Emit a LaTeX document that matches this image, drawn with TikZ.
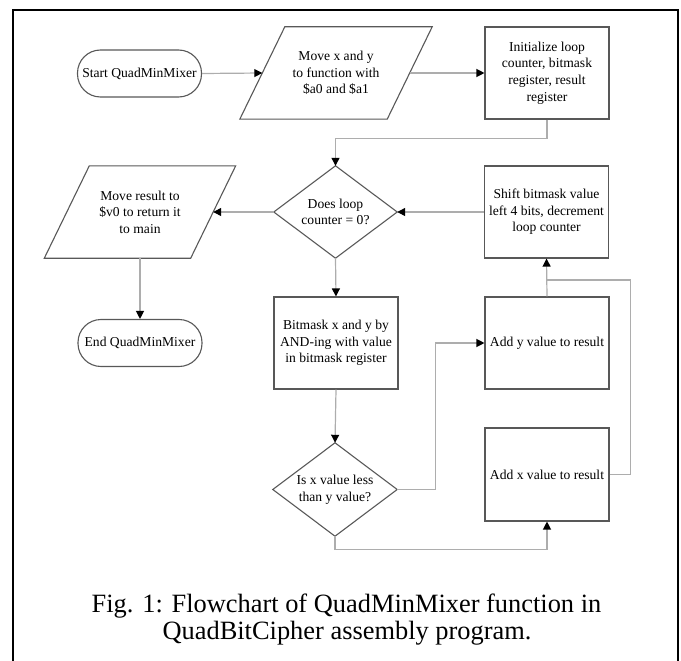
\documentclass[tikz,border=0pt]{standalone}
\usepackage{fontspec}
\setmainfont{Liberation Serif}
\usetikzlibrary{arrows.meta,calc}
\definecolor{edgec}{HTML}{ADADAD}
\definecolor{bordc}{HTML}{585858}
\newcommand\nfont{\fontsize{13.6}{16.6}\selectfont}
\newcommand\cfont{\fontsize{26.4}{27}\selectfont}
\begin{document}
\begin{tikzpicture}[x=1pt,y=-1pt,
  box/.style={draw=bordc, line width=1.1pt, minimum width=124pt, minimum height=92pt, inner sep=0pt, align=center, font=\nfont},
  termbox/.style={draw=bordc, line width=1.1pt, minimum width=124pt, minimum height=47pt, rounded corners=23pt, inner sep=0pt, align=center, font=\nfont},
  ghost/.style={minimum width=#1, minimum height=92pt, inner sep=0pt, align=center, font=\nfont},
  shapeline/.style={draw=bordc, line width=1.1pt},
  conn/.style={draw=edgec, line width=1.2pt, -{Triangle[length=8pt,width=8pt,color=black]}},
  plainline/.style={draw=edgec, line width=1.2pt},
  captext/.style={font=\cfont, anchor=base, inner sep=0pt}
]
\useasboundingbox (0,0) rectangle (681,661);
\draw[line width=2.7pt] (13,661) -- (13,10) -- (678,10) -- (678,661);

% nodes
\node[termbox] (start) at (139.5,73.5) {Start QuadMinMixer};
\node[ghost=147pt] (p1) at (336,73) {Move x and y\\to function with\\\$a0 and \$a1};
\draw[shapeline] ([xshift=22.5pt]p1.north west) -- ([xshift=22.5pt]p1.north east) -- ([xshift=-22.5pt]p1.south east) -- ([xshift=-22.5pt]p1.south west) -- cycle;
\node[box] (init) at (547,73) {Initialize loop\\counter, bitmask\\register, result\\register};

\node[ghost=123pt] (d1) at (335.5,212) {Does loop\\counter = 0?};
\draw[shapeline] (d1.north) -- (d1.east) -- (d1.south) -- (d1.west) -- cycle;
\node[ghost=146pt] (p2) at (140,212) {Move result to\\\$v0 to return it\\to main};
\draw[shapeline] ([xshift=22.5pt]p2.north west) -- ([xshift=22.5pt]p2.north east) -- ([xshift=-22.5pt]p2.south east) -- ([xshift=-22.5pt]p2.south west) -- cycle;
\node[box] (shift) at (546.5,212) {Shift bitmask value\\left 4 bits, decrement\\loop counter};

\node[termbox] (end) at (140,343) {End QuadMinMixer};
\node[box] (bit) at (336,343) {Bitmask x and y by\\AND-ing with value\\in bitmask register};
\node[box] (addy) at (547,343) {Add y value to result};

\node[ghost=124pt, minimum height=93pt] (d2) at (335,489.5) {Is x value less\\than y value?};
\draw[shapeline] (d2.north) -- (d2.east) -- (d2.south) -- (d2.west) -- cycle;
\node[box, minimum height=93pt] (addx) at (547,474.5) {Add x value to result};

% connectors
\draw[conn] (start.east) -- (p1.west);
\draw[conn] (p1.east) -- (init.west);
\draw[conn] (init.south) -- ++(0,19) -| (d1.north);
\draw[conn] (d1.west) -- (p2.east);
\draw[conn] (shift.west) -- (d1.east);
\draw[conn] (d1.south) -- (bit.north);
\draw[conn] (p2.south) -- (end.north);
\draw[conn] (bit.south) -- (d2.north);
\draw[conn] (d2.east) -- ++(38,0) |- (addy.west);
\draw[conn] (d2.south) -- ++(0,13.5) -| (addx.south);
\draw[conn] (addy.north) -- (shift.south);
\coordinate (join) at (547,280);
\draw[plainline] (addx.east) -- ++(21,0) |- (join);

% caption
\node[captext] (cap1) at (346.5,612) {Fig. 1: Flowchart of QuadMinMixer function in};
\node[captext] (cap2) at (347,639) {QuadBitCipher assembly program.};
\end{tikzpicture}
\end{document}
